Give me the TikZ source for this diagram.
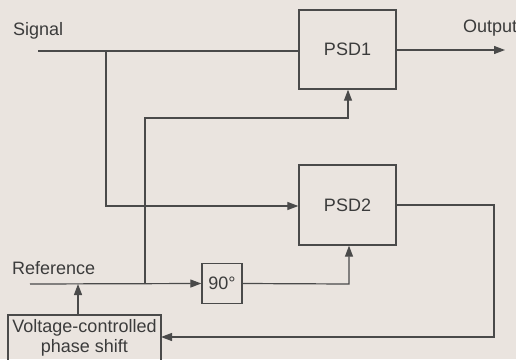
\documentclass[tikz,border=0pt]{standalone}
\usepackage{fontspec}
\setmainfont{Liberation Sans}
\usetikzlibrary{arrows.meta}
\definecolor{bg}{HTML}{EAE4DF}
\definecolor{ink}{HTML}{4A4A4A}
\tikzset{
  blk/.style={draw=ink, line width=1.3pt, inner sep=0pt},
  wire/.style={draw=ink, line width=1.2pt},
  arr/.style={wire, -{Triangle[length=11pt,width=8pt]}},
  lbl/.style={text=ink!80!black, font=\fontsize{18}{21}\selectfont, inner sep=0pt},
}
\begin{document}
\begin{tikzpicture}[x=1pt,y=-1pt]
\fill[bg] (0,0) rectangle (516,359);
\useasboundingbox (0,0) rectangle (516,359);
% boxes
\node[blk, minimum width=97pt, minimum height=79pt, lbl] (psd1) at (347.5,49.5) {PSD1};
\node[blk, minimum width=97pt, minimum height=80pt, lbl] (psd2) at (347.5,205) {PSD2};
\node[blk, minimum width=40pt, minimum height=40pt, lbl] (ninety) at (222,283.5) {90°};
\draw[wire] (8,315) rectangle (161,365);
\node[lbl, align=center] (vcps) at (84.5,338) {Voltage-controlled\\[-1pt]phase shift};
\coordinate (vtop) at (78,315);
\coordinate (vright) at (161,337);
% labels
\node[lbl, anchor=west] (sig) at (13,31) {Signal};
\node[lbl, anchor=west] (outl) at (463,28) {Output};
\node[lbl, anchor=west] (ref) at (12,268) {Reference};
% coordinates
\coordinate (s0) at (38,51);
\coordinate (sb) at (106,51);
\coordinate (sd) at (106,206);
\coordinate (r0) at (30,284);
\coordinate (rb) at (145,284);
\coordinate (rt) at (145,118);
\coordinate (p1b) at (348,118);
\coordinate (o1) at (505,50);
\coordinate (n2) at (349,284);
\coordinate (q1) at (494,205);
\coordinate (q2) at (494,337);
% wires
\draw[wire] (s0) -- (psd1.west |- s0);
\draw[arr] (sb) -- (sd) -- (psd2.west |- sd);
\draw[arr] (psd1.east |- o1) -- (o1);
\draw[arr] (r0) -- (ninety.west);
\draw[arr] (rb) -- (rt) -- (p1b) -- (p1b |- psd1.south);
\draw[arr] (ninety.east) -- (n2) -- (n2 |- psd2.south);
\draw[arr] (psd2.east |- q1) -- (q1) -- (q2) -- (vright);
\draw[arr] (vtop) -- (vtop |- r0);
\end{tikzpicture}
\end{document}
